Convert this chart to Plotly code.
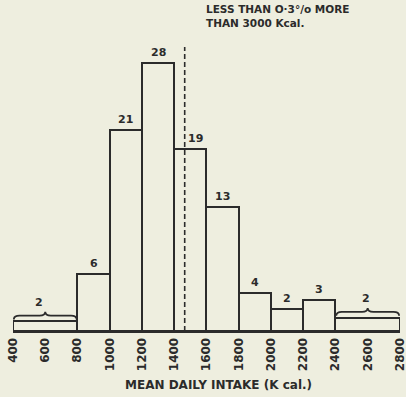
import plotly.graph_objects as go

# histogram of mean daily intake (Kcal.)
bin_edges = [400, 800, 1000, 1200, 1400, 1600, 1800, 2000, 2200, 2400, 2800]
counts = [2, 6, 21, 28, 19, 13, 4, 2, 3, 2]
# drawn heights (wide end bins are drawn per 200 Kcal.)
heights = [1.0, 6, 21, 28, 19, 13, 4, 2.3, 3.2, 1.4]
mean_line = 1465
tick_vals = list(range(400, 2801, 200))
note = "LESS THAN O·3°/o MORE<br>THAN 3000 Kcal."
x_title = "MEAN DAILY INTAKE (K cal.)"

INK = "#2b2b2b"
BG = "#eeeedf"
FONT = "DejaVu Sans"

lefts = bin_edges[:-1]
widths = [b - a for a, b in zip(bin_edges[:-1], bin_edges[1:])]
centers = [a + w / 2 for a, w in zip(lefts, widths)]

fig = go.Figure()
fig.add_trace(go.Bar(
    x=centers, y=heights, width=widths,
    marker=dict(color="rgba(0,0,0,0)", line=dict(color=INK, width=2)),
    hoverinfo="skip",
))


def brace_path(x0, x1, y):
    # curly brace drawn over a wide bin
    xm = (x0 + x1) / 2
    d = 35
    yt, yh, yp = y + 0.2, y + 0.6, y + 1.0
    return (f"M {x0},{yt} Q {x0},{yh} {x0 + d},{yh} L {xm - d},{yh} "
            f"Q {xm},{yh} {xm},{yp} Q {xm},{yh} {xm + d},{yh} "
            f"L {x1 - d},{yh} Q {x1},{yh} {x1},{yt}")


for c, h, n, a, w in zip(centers, heights, counts, lefts, widths):
    if w > 200:
        fig.add_shape(type="path", path=brace_path(a + 5, a + w - 5, h),
                      line=dict(color=INK, width=1.8))
        fig.add_annotation(x=c - 40 if a < 1000 else c - 10, y=h + 1.0, text=str(n),
                           showarrow=False, yanchor="bottom", yshift=1,
                           font=dict(family=FONT, size=11, color=INK, weight="bold"))
    else:
        fig.add_annotation(x=c, y=h, text=str(n), showarrow=False,
                           yanchor="bottom", yshift=2,
                           xshift=5 if n == 19 else 0,
                           font=dict(family=FONT, size=11, color=INK, weight="bold"))

fig.add_shape(type="line", x0=mean_line, x1=mean_line, y0=0, y1=29.7,
              line=dict(color=INK, width=1.6, dash="5px,3px"))

fig.add_annotation(x=1585, y=32.9, text=note, showarrow=False,
                   xanchor="left", align="left",
                   font=dict(family=FONT, size=10.5, color=INK, weight="bold"))

fig.add_annotation(x=0.53, y=-0.19, xref="paper", yref="paper", text=x_title,
                   showarrow=False,
                   font=dict(family=FONT, size=12, color=INK, weight="bold"))

fig.update_layout(
    width=406, height=397,
    margin=dict(l=13, r=6, t=0, b=66),
    paper_bgcolor=BG, plot_bgcolor=BG,
    showlegend=False,
    bargap=0,
    xaxis=dict(range=[400, 2800.5], tickvals=tick_vals, ticks="", tickangle=-90,
               ticklabeloverflow="allow",
               showgrid=False, zeroline=False, showline=True,
               linecolor=INK, linewidth=2,
               tickfont=dict(family=FONT, size=12, color=INK, weight="bold")),
    yaxis=dict(range=[0, 34.6], visible=False, showgrid=False),
)

# drop the page's default body margin so the figure fills the window
fig.write_html("out.html", config={"displayModeBar": False},
               post_script="document.body.style.margin='0';"
                           "document.body.style.overflow='hidden';")
